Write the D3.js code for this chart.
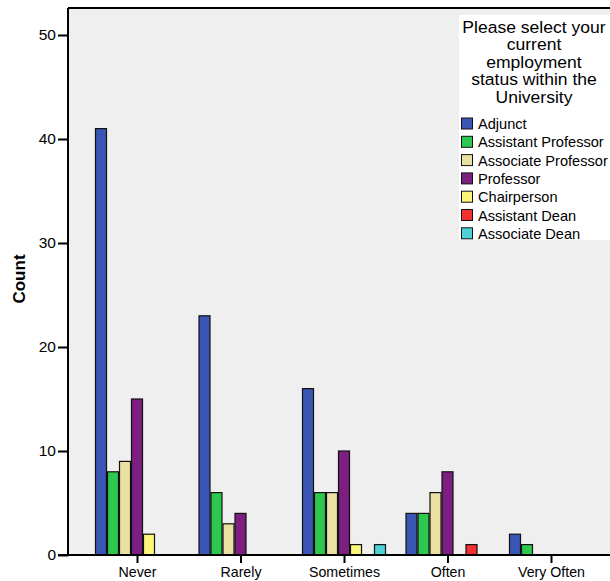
<!DOCTYPE html>
<html><head><meta charset="utf-8">
<script src="https://cdn.jsdelivr.net/npm/d3@7"></script>
<style>body{margin:0;background:#fff}svg{display:block;font-family:"Liberation Sans",Arial,sans-serif}</style>
</head><body>
<svg id="c" width="610" height="581"></svg>
<script>
const categories = ["Never","Rarely","Sometimes","Often","Very Often"];
const seriesNames = ["Adjunct","Assistant Professor","Associate Professor","Professor","Chairperson","Assistant Dean","Associate Dean"];
const adjunct = [41,23,16,4,2];
const assistantProfessor = [8,6,6,4,1];
const associateProfessor = [9,3,6,6,0];
const professor = [15,4,10,8,0];
const chairperson = [2,0,1,0,0];
const assistantDean = [0,0,0,1,0];
const associateDean = [0,0,1,0,0];
const yTicks = [0,10,20,30,40,50];
const colors = ["#3a55b4","#2dc84d","#e9e0a2","#7d1f80","#fbf57a","#f2302f","#4dd2d8"];
const legendTitle = ["Please select your","current","employment","status within the","University"];

const series = [adjunct,assistantProfessor,associateProfessor,professor,chairperson,assistantDean,associateDean];
const svg = d3.select("#c");
const L = 68, T = 8, B = 555, R = 640;
const y = d3.scaleLinear().domain([0,50]).range([B,35]);
const x = d3.scalePoint().domain(categories).range([137,551]);
const xs = d3.scaleBand().domain(seriesNames).range([-42,42]);

svg.append("rect").attr("x",L).attr("y",T).attr("width",R-L).attr("height",B-T).attr("fill","#efefef");

const g = svg.append("g");
categories.forEach((c,ci)=>{
  seriesNames.forEach((s,si)=>{
    const v = series[si][ci];
    if(v<=0) return;
    g.append("rect")
      .attr("x", x(c)+xs(s)+0.5)
      .attr("y", y(v))
      .attr("width", xs.bandwidth()-1)
      .attr("height", B-y(v))
      .attr("fill", colors[si])
      .attr("stroke","#111").attr("stroke-width",1.2);
  });
});

// frame
svg.append("line").attr("x1",L).attr("x2",R).attr("y1",T).attr("y2",T).attr("stroke","#000").attr("stroke-width",2);
const yAxis = d3.axisLeft(y).tickValues(yTicks).tickSize(10).tickPadding(2);
const ya = svg.append("g").attr("transform",`translate(${L},0)`).call(yAxis);
ya.select(".domain").attr("d",`M0,${T}V${B}`).attr("stroke-width",2);
ya.selectAll(".tick line").attr("stroke-width",2);
ya.selectAll("text").attr("font-size",15.5).attr("font-family","Liberation Sans, Arial").attr("fill","#000");

const xAxis = d3.axisBottom(x).tickSize(8).tickPadding(4);
const xa = svg.append("g").attr("transform",`translate(0,${B})`).call(xAxis);
xa.select(".domain").attr("d",`M${L-10},0H${R}`).attr("stroke-width",2);
xa.selectAll(".tick line").attr("stroke-width",2);
xa.selectAll("text").attr("font-size",14.2).attr("font-family","Liberation Sans, Arial").attr("fill","#000");

svg.append("text").attr("transform","translate(25,279) rotate(-90)")
  .attr("text-anchor","middle").attr("font-weight","bold").attr("font-size",17).text("Count");

// legend
const lg = svg.append("g");
lg.append("rect").attr("x",459).attr("y",15).attr("width",160).attr("height",225).attr("fill","#fff");
legendTitle.forEach((t,i)=>{
  lg.append("text").attr("transform",`translate(534,${32.5+i*17.5}) scale(1.17,1.1)`)
    .attr("text-anchor","middle").attr("font-size",15).text(t);
});
seriesNames.forEach((s,i)=>{
  const yy = 118+i*18.3;
  lg.append("rect").attr("x",461.5).attr("y",yy).attr("width",11).attr("height",11).attr("fill",colors[i]).attr("stroke","#111").attr("stroke-width",1);
  lg.append("text").attr("x",478).attr("y",yy+11).attr("font-size",14.6).text(s);
});
</script>
</body></html>
